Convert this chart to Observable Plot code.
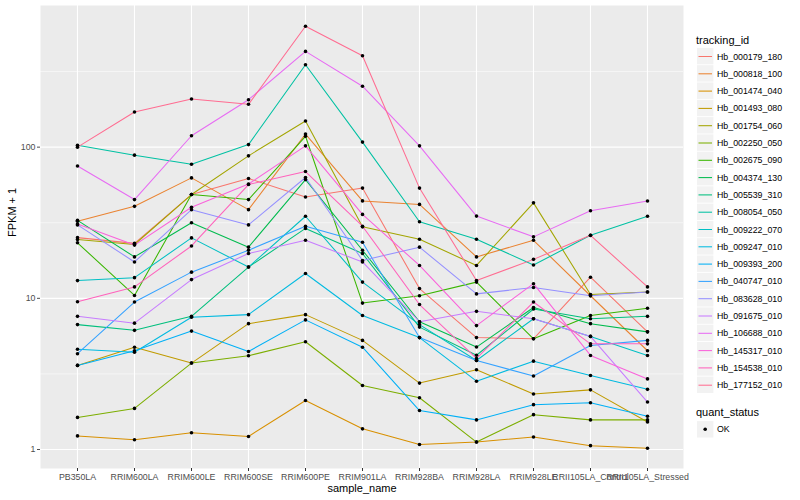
<!DOCTYPE html>
<html><head><meta charset="utf-8">
<script src="https://cdn.jsdelivr.net/npm/d3@7"></script>
<script src="https://cdn.jsdelivr.net/npm/@observablehq/plot@0.6"></script>
<style>
body{margin:0;background:#fff;font-family:"Liberation Sans",Arial,Helvetica,sans-serif;}
#wrap{position:relative;width:800px;height:500px;}
#legend{position:absolute;left:690px;top:0;}
</style></head>
<body><div id="wrap"><div id="chart"></div><svg id="legend" width="110" height="500"></svg></div>
<script>
const samples = ["PB350LA","RRIM600LA","RRIM600LE","RRIM600SE","RRIM600PE","RRIM901LA","RRIM928BA","RRIM928LA","RRIM928LE","RRII105LA_Control","RRII105LA_Stressed"];
const ids = ["Hb_000179_180","Hb_000818_100","Hb_001474_040","Hb_001493_080","Hb_001754_060","Hb_002250_050","Hb_002675_090","Hb_004374_130","Hb_005539_310","Hb_008054_050","Hb_009222_070","Hb_009247_010","Hb_009393_200","Hb_040747_010","Hb_083628_010","Hb_091675_010","Hb_106688_010","Hb_145317_010","Hb_154538_010","Hb_177152_010"];
const palette = ["#F8766D","#EA8331","#D89000","#C09B00","#A3A500","#7CAE00","#39B600","#00BB4E","#00BF7D","#00C1A3","#00BFC4","#00BAE0","#00B0F6","#35A2FF","#9590FF","#C77CFF","#E76BF3","#FA62DB","#FF62BC","#FF6C91"];

const Hb_000179_180 = [25.2, 23.1, 48.6, 62, 46.8, 53.6, 11.6, 5.5, 5.4, 13.8, 6.0];
const Hb_000818_100 = [32.4, 40.6, 62.6, 38.6, 122, 44.1, 41.8, 18.8, 24.2, 10.4, 4.5];
const Hb_001474_040 = [1.23, 1.16, 1.29, 1.22, 2.11, 1.37, 1.08, 1.12, 1.21, 1.06, 1.02];
const Hb_001493_080 = [3.6, 4.75, 3.73, 6.8, 7.8, 5.27, 2.75, 3.37, 2.33, 2.48, 1.52];
const Hb_001754_060 = [24.5, 22.7, 48.6, 87.6, 149, 29.7, 24.6, 16.5, 42.8, 10.6, 11.0];
const Hb_002250_050 = [1.63, 1.87, 3.73, 4.17, 5.16, 2.65, 2.2, 1.12, 1.70, 1.57, 1.57];
const Hb_002675_090 = [23.3, 10.45, 48.6, 45, 118, 9.3, 10.4, 12.8, 5.4, 7.7, 8.6];
const Hb_004374_130 = [32.8, 18.8, 31.6, 21.8, 61, 20.8, 7.0, 4.76, 8.7, 6.8, 6.0];
const Hb_005539_310 = [6.7, 6.14, 7.6, 16.1, 29, 19.8, 6.45, 4.2, 8.5, 7.33, 7.6];
const Hb_008054_050 = [103, 88.5, 77, 104, 351, 108, 32.1, 24.6, 16.6, 26.1, 34.9];
const Hb_009222_070 = [13.1, 13.7, 25.1, 16.1, 34.9, 12.8, 6.7, 3.88, 7.33, 5.6, 4.19];
const Hb_009247_010 = [4.6, 4.4, 7.5, 7.8, 14.6, 7.7, 5.5, 2.83, 3.84, 3.09, 2.5];
const Hb_009393_200 = [3.6, 4.5, 6.07, 4.45, 7.2, 4.75, 1.81, 1.57, 1.98, 2.04, 1.66];
const Hb_040747_010 = [4.3, 9.45, 14.9, 20.8, 30, 23.5, 5.5, 3.88, 3.06, 4.87, 5.27];
const Hb_083628_010 = [30.6, 17.4, 38.6, 30.6, 63, 17.8, 21.8, 10.7, 11.8, 10.4, 11.0];
const Hb_091675_010 = [7.6, 6.85, 13.3, 19.8, 24.2, 17.4, 7.0, 8.2, 7.33, 5.6, 2.06];
const Hb_106688_010 = [75, 45, 119, 206, 430, 253, 102, 35, 25.5, 38, 44];
const Hb_145317_010 = [31, 22.5, 40, 57, 102, 35.9, 16.5, 6.6, 12.5, 4.19, 2.93];
const Hb_154538_010 = [9.5, 11.9, 22.2, 56.6, 69, 30, 9.1, 4.0, 9.45, 5.0, 5.0];
const Hb_177152_010 = [100, 171, 208, 192, 630, 402, 53.6, 13.1, 18.1, 26.1, 11.9];

const series = [Hb_000179_180,Hb_000818_100,Hb_001474_040,Hb_001493_080,Hb_001754_060,Hb_002250_050,Hb_002675_090,Hb_004374_130,Hb_005539_310,Hb_008054_050,Hb_009222_070,Hb_009247_010,Hb_009393_200,Hb_040747_010,Hb_083628_010,Hb_091675_010,Hb_106688_010,Hb_145317_010,Hb_154538_010,Hb_177152_010];
const rows = [];
series.forEach((vals, i) => vals.forEach((v, j) => rows.push({id: ids[i], sample: samples[j], v})));

const chart = Plot.plot({
  width: 690, height: 500,
  marginLeft: 40, marginRight: 7, marginTop: 5, marginBottom: 32,
  style: {fontFamily: '"Liberation Sans", Arial, Helvetica, sans-serif', fontSize: "8.8px", background: "white"},
  x: {type: "point", domain: samples, padding: 0.6},
  y: {type: "log", domain: [0.7487, 865]},
  color: {domain: ids, range: palette},
  marks: [
    Plot.frame({fill: "#EBEBEB", stroke: null}),
    Plot.gridY([Math.sqrt(10), Math.sqrt(1000), Math.sqrt(100000)], {stroke: "white", strokeOpacity: 1, strokeWidth: 0.55}),
    Plot.gridY([1, 10, 100], {stroke: "white", strokeOpacity: 1, strokeWidth: 1.1}),
    Plot.gridX(samples, {stroke: "white", strokeOpacity: 1, strokeWidth: 1.1}),
    Plot.line(rows, {x: "sample", y: "v", z: "id", stroke: "id", strokeWidth: 1.05}),
    Plot.dot(rows, {x: "sample", y: "v", r: 1.8, fill: "black", stroke: null}),
    Plot.axisX({tickSize: 3, tickPadding: 2, label: null, color: "#4D4D4D", stroke: "#333"}),
    Plot.axisY({ticks: [1, 10, 100], tickFormat: d => String(d), tickSize: 3, tickPadding: 2, label: null, color: "#4D4D4D"}),
    Plot.text(["sample_name"], {frameAnchor: "bottom", dy: 19.5, fontSize: 11, fill: "black", lineAnchor: "middle"}),
    Plot.text(["FPKM + 1"], {frameAnchor: "left", dx: -28, rotate: -90, fontSize: 11, fill: "black"})
  ]
});
document.getElementById("chart").appendChild(chart);

// legend
const lg = d3.select("#legend").attr("font-family", '"Liberation Sans", Arial, Helvetica, sans-serif');
lg.append("text").attr("x", 6).attr("y", 44).attr("font-size", 11).text("tracking_id");
ids.forEach((id, i) => {
  const cy = 56.5 + 17.3 * i;
  const g = lg.append("g");
  g.append("rect").attr("x", 7).attr("y", cy - 8.6).attr("width", 16.4).attr("height", 16.4).attr("fill", "#F2F2F2");
  g.append("line").attr("x1", 8.5).attr("x2", 22).attr("y1", cy).attr("y2", cy).attr("stroke", palette[i]).attr("stroke-width", 1.05);
  g.append("text").attr("x", 27).attr("y", cy).attr("dy", "0.35em").attr("font-size", 8.8).text(id);
});
lg.append("text").attr("x", 6).attr("y", 416).attr("font-size", 11).text("quant_status");
lg.append("rect").attr("x", 7).attr("y", 429.3 - 8.2).attr("width", 16.4).attr("height", 16.4).attr("fill", "#F2F2F2");
lg.append("circle").attr("cx", 15.2).attr("cy", 429.3).attr("r", 1.8).attr("fill", "black");
lg.append("text").attr("x", 27).attr("y", 429.3).attr("dy", "0.35em").attr("font-size", 8.8).text("OK");
</script></body></html>
